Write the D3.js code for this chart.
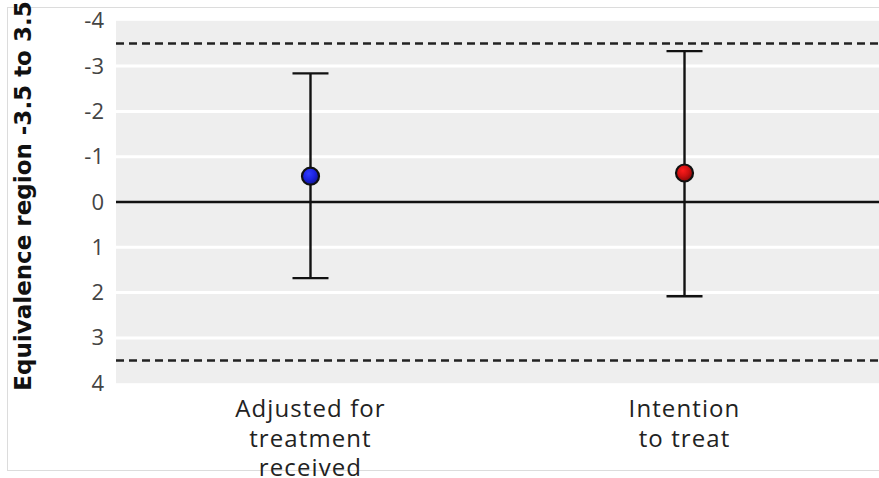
<!DOCTYPE html>
<html>
<head>
<meta charset="utf-8">
<script src="https://cdn.jsdelivr.net/npm/d3@7"></script>
<style>
  body { margin: 0; background: #fff; }
  svg { display: block; }
</style>
</head>
<body>
<svg id="chart" width="879" height="478"></svg>
<script>

// data
var categories = ["Adjusted for|treatment|received", "Intention|to treat"];
var estimates = [-0.57, -0.64];
var lowerCI = [-2.84, -3.33];
var upperCI = [1.68, 2.08];
var pointColors = ["#1b22e0", "#cc1010"];
var yTicks = [-4, -3, -2, -1, 0, 1, 2, 3, 4];
var equivLimits = [-3.5, 3.5];

var svg = d3.select("#chart");
var plotLeft = 116, plotRight = 879, plotTop = 20.8, plotBottom = 383.2;

var x = d3.scalePoint()
	.domain(categories)
	.range([plotLeft, plotRight])
	.padding(0.52);

var y = d3.scaleLinear()
	.domain([-4, 4])
	.range([plotTop, plotBottom]);

// outer frame
svg.append("rect")
	.attr("x", 7.5).attr("y", 7.5)
	.attr("width", 900).attr("height", 463)
	.attr("fill", "none")
	.attr("stroke", "#dcdcdc")
	.attr("stroke-width", 1);

// gradients for the glossy dots
var defs = svg.append("defs");
pointColors.forEach(function(c, i){
	var g = defs.append("radialGradient")
		.attr("id", "dot" + i)
		.attr("cx", "40%").attr("cy", "35%").attr("r", "65%");
	g.append("stop").attr("offset", "0%").attr("stop-color", d3.color(c).brighter(1.6));
	g.append("stop").attr("offset", "55%").attr("stop-color", c);
	g.append("stop").attr("offset", "100%").attr("stop-color", d3.color(c).darker(1.2));
});

// plot background
svg.append("rect")
	.attr("x", plotLeft).attr("y", y(-4))
	.attr("width", plotRight - plotLeft).attr("height", y(4) - y(-4))
	.attr("fill", "#eeeeee");

// white grid lines
svg.selectAll("line.grid")
	.data(yTicks.filter(function(d){ return d !== 0 && Math.abs(d) !== 4; }))
	.enter().append("line")
	.attr("class", "grid")
	.attr("x1", plotLeft).attr("x2", plotRight)
	.attr("y1", function(d){ return y(d); })
	.attr("y2", function(d){ return y(d); })
	.attr("stroke", "#ffffff")
	.attr("stroke-width", 3);

// zero line
svg.append("line")
	.attr("x1", plotLeft).attr("x2", plotRight)
	.attr("y1", y(0)).attr("y2", y(0))
	.attr("stroke", "#111").attr("stroke-width", 2.4);

// equivalence limits
svg.selectAll("line.equiv")
	.data(equivLimits)
	.enter().append("line")
	.attr("class", "equiv")
	.attr("x1", plotLeft).attr("x2", plotRight)
	.attr("y1", function(d){ return y(d); })
	.attr("y2", function(d){ return y(d); })
	.attr("stroke", "#222").attr("stroke-width", 2.4)
	.attr("stroke-dasharray", "8,5");

// y axis (labels only)
var yAxis = d3.axisLeft(y).tickValues(yTicks).tickSize(0).tickPadding(12)
	.tickFormat(function(d){ return d < 0 ? "-" + Math.abs(d) : d; });
var ya = svg.append("g")
	.attr("transform", "translate(" + plotLeft + ",0)")
	.call(yAxis);
ya.select(".domain").remove();
ya.selectAll("text")
	.attr("font-family", "'Open Sans', sans-serif")
	.attr("font-size", 22)
	.attr("fill", "#444");

// y title
svg.append("text")
	.attr("transform", "translate(31," + 196 + ") rotate(-90)")
	.attr("text-anchor", "middle")
	.attr("font-family", "'DejaVu Sans', sans-serif")
	.attr("font-weight", "bold")
	.attr("font-size", 23)
	.attr("fill", "#111")
	.text("Equivalence region -3.5 to 3.5");

// error bars
var idx = d3.range(categories.length);
var bars = svg.selectAll("g.bar").data(idx).enter().append("g").attr("class", "bar");
bars.append("line")
	.attr("x1", function(i){ return x(categories[i]); })
	.attr("x2", function(i){ return x(categories[i]); })
	.attr("y1", function(i){ return y(lowerCI[i]); })
	.attr("y2", function(i){ return y(upperCI[i]); })
	.attr("stroke", "#111").attr("stroke-width", 2.4);
bars.append("line")
	.attr("x1", function(i){ return x(categories[i]) - 18; })
	.attr("x2", function(i){ return x(categories[i]) + 18; })
	.attr("y1", function(i){ return y(lowerCI[i]); })
	.attr("y2", function(i){ return y(lowerCI[i]); })
	.attr("stroke", "#111").attr("stroke-width", 2.4);
bars.append("line")
	.attr("x1", function(i){ return x(categories[i]) - 18; })
	.attr("x2", function(i){ return x(categories[i]) + 18; })
	.attr("y1", function(i){ return y(upperCI[i]); })
	.attr("y2", function(i){ return y(upperCI[i]); })
	.attr("stroke", "#111").attr("stroke-width", 2.4);
bars.append("circle")
	.attr("cx", function(i){ return x(categories[i]); })
	.attr("cy", function(i){ return y(estimates[i]); })
	.attr("r", 8.5)
	.attr("fill", function(i){ return "url(#dot" + i + ")"; })
	.attr("stroke", "#111").attr("stroke-width", 2.2);

// category labels
var lab = svg.selectAll("text.cat").data(categories).enter().append("text")
	.attr("class", "cat")
	.attr("text-anchor", "middle")
	.attr("font-family", "'Open Sans', sans-serif")
	.attr("font-size", 24)
	.attr("letter-spacing", 1.1)
	.attr("fill", "#222");
lab.selectAll("tspan")
	.data(function(d){ return d.split("|").map(function(s){ return {s: s, c: d}; }); })
	.enter().append("tspan")
	.attr("x", function(d){ return x(d.c); })
	.attr("y", function(d, j){ return 417 + j * 29.5; })
	.text(function(d){ return d.s; });

</script>
</body>
</html>
